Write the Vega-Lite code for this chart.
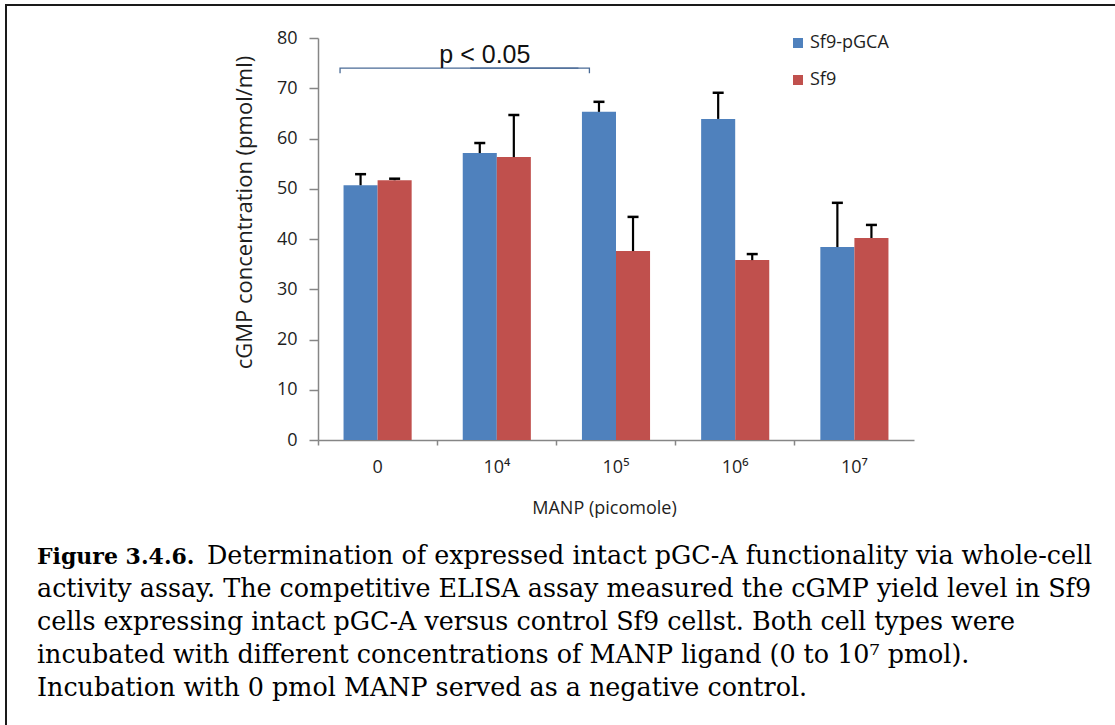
{
  "$schema": "https://vega.github.io/schema/vega-lite/v6.json",
  "width": 1150,
  "height": 760,
  "autosize": {"type": "none"},
  "padding": {"left": 6, "top": 5, "right": 0, "bottom": 0},
  "background": "white",
  "config": {"view": {"stroke": "#1a1a1a", "strokeWidth": 2}},
  "datasets": {
    "bars": [
      {"conc": "0", "cell": "Sf9-pGCA", "mean": 50.7, "upper": 52.9},
      {"conc": "0", "cell": "Sf9", "mean": 51.7, "upper": 52.0},
      {"conc": "10⁴", "cell": "Sf9-pGCA", "mean": 57.1, "upper": 59.1},
      {"conc": "10⁴", "cell": "Sf9", "mean": 56.3, "upper": 64.7},
      {"conc": "10⁵", "cell": "Sf9-pGCA", "mean": 65.3, "upper": 67.3},
      {"conc": "10⁵", "cell": "Sf9", "mean": 37.6, "upper": 44.4},
      {"conc": "10⁶", "cell": "Sf9-pGCA", "mean": 63.9, "upper": 69.1},
      {"conc": "10⁶", "cell": "Sf9", "mean": 35.8, "upper": 37.0},
      {"conc": "10⁷", "cell": "Sf9-pGCA", "mean": 38.4, "upper": 47.2},
      {"conc": "10⁷", "cell": "Sf9", "mean": 40.2, "upper": 42.8}
    ],
    "bracketL": [
      {"conc": "0", "v": 73, "o": 1},
      {"conc": "0", "v": 74, "o": 2},
      {"conc": "10⁵", "v": 74, "o": 3}
    ],
    "bracketR": [
      {"conc": "10⁴", "v": 74, "o": 1},
      {"conc": "10⁵", "v": 74, "o": 2},
      {"conc": "10⁵", "v": 73, "o": 3}
    ],
    "ptext": [{"conc": "10⁴", "v": 75, "label": "p < 0.05"}],
    "capBold": [{"line": 1, "part": "a", "text": "Figure 3.4.6."}],
    "capReg": [
      {"line": 1, "part": "b", "text": "Determination of expressed intact pGC-A functionality via whole-cell"},
      {"line": 2, "part": "a", "text": "activity assay. The competitive ELISA assay measured the cGMP yield level in Sf9"},
      {"line": 3, "part": "a", "text": "cells expressing intact pGC-A versus control Sf9 cellst. Both cell types were"},
      {"line": 4, "part": "a", "text": "incubated with different concentrations of MANP ligand (0 to 10⁷ pmol)."},
      {"line": 5, "part": "a", "text": "Incubation with 0 pmol MANP served as a negative control."}
    ]
  },
  "layer": [
    {
      "layer": [
        {
          "data": {"name": "bars"},
          "mark": {"type": "bar"},
          "encoding": {
            "x": {
              "field": "conc", "type": "nominal",
              "sort": ["0", "10⁴", "10⁵", "10⁶", "10⁷"],
              "scale": {"domain": ["0", "10⁴", "10⁵", "10⁶", "10⁷"], "range": [312, 908], "paddingInner": 0, "paddingOuter": 0},
              "axis": {
                "title": "MANP (picomole)", "offset": -325, "labelAngle": 0, "bandPosition": 0,
                "tickSize": 5, "tickColor": "#868686", "tickWidth": 1.5,
                "domainColor": "#868686", "domainWidth": 1.5,
                "labelFont": "Open Sans, Noto Sans", "labelFontSize": 18, "labelColor": "#1e1e1e", "labelPadding": 13,
                "titleFont": "Open Sans", "titleFontSize": 18, "titleFontWeight": "normal", "titleColor": "#1e1e1e",
                "titleX": 598, "titleY": 68, "titleBaseline": "middle"
              }
            },
            "xOffset": {"field": "cell", "type": "nominal", "sort": ["Sf9-pGCA", "Sf9"], "scale": {"domain": ["Sf9-pGCA", "Sf9"], "paddingOuter": 0.75, "paddingInner": 0}},
            "y": {
              "field": "mean", "type": "quantitative",
              "scale": {"domain": [0, 80], "range": [435, 33], "nice": false},
              "axis": {
                "title": "cGMP concentration  (pmol/ml)", "offset": -312, "values": [0, 10, 20, 30, 40, 50, 60, 70, 80], "grid": false,
                "domainColor": "#868686", "domainWidth": 1.5, "tickColor": "#868686", "tickWidth": 1.5, "tickSize": 9,
                "labelFont": "Open Sans", "labelFontSize": 18, "labelColor": "#1e1e1e", "labelPadding": 12,
                "titleFont": "Open Sans", "titleFontSize": 22, "titleFontWeight": "normal", "titleColor": "#1e1e1e",
                "titleX": -74, "titleY": 207, "titleBaseline": "middle", "titleAlign": "center"
              }
            },
            "color": {
              "field": "cell", "type": "nominal",
              "scale": {"domain": ["Sf9-pGCA", "Sf9"], "range": ["#4F81BD", "#C0504D"]},
              "legend": {
                "orient": "none", "legendX": 783, "legendY": 29, "title": null,
                "symbolType": "square", "symbolSize": 100, "symbolStrokeWidth": 0,
                "labelFont": "Open Sans", "labelFontSize": 18, "labelColor": "#1e1e1e",
                "rowPadding": 19, "labelOffset": 3, "padding": 0
              }
            }
          }
        },
        {
          "data": {"name": "bars"},
          "mark": {"type": "rule", "color": "#000000", "strokeWidth": 2.2},
          "encoding": {
            "x": {"field": "conc", "type": "nominal"},
            "xOffset": {"field": "cell", "type": "nominal"},
            "y": {"field": "mean", "type": "quantitative"},
            "y2": {"field": "upper"}
          }
        },
        {
          "data": {"name": "bars"},
          "mark": {"type": "tick", "orient": "horizontal", "size": 11, "thickness": 2.5, "color": "#000000", "opacity": 1},
          "encoding": {
            "x": {"field": "conc", "type": "nominal"},
            "xOffset": {"field": "cell", "type": "nominal"},
            "y": {"field": "upper", "type": "quantitative"}
          }
        },
        {
          "data": {"name": "bracketL"},
          "mark": {"type": "line", "color": "#4a6b96", "strokeWidth": 1.3},
          "encoding": {
            "x": {"field": "conc", "type": "nominal", "bandPosition": 0.185},
            "y": {"field": "v", "type": "quantitative"},
            "order": {"field": "o"}
          }
        },
        {
          "data": {"name": "bracketR"},
          "mark": {"type": "line", "color": "#4a6b96", "strokeWidth": 1.3},
          "encoding": {
            "x": {"field": "conc", "type": "nominal", "bandPosition": 0.277},
            "y": {"field": "v", "type": "quantitative"},
            "order": {"field": "o"}
          }
        },
        {
          "data": {"name": "ptext"},
          "mark": {"type": "text", "font": "Liberation Sans", "fontSize": 25, "color": "#111111", "align": "center", "baseline": "alphabetic"},
          "encoding": {
            "x": {"field": "conc", "type": "nominal", "bandPosition": 0.4},
            "y": {"field": "v", "type": "quantitative"},
            "text": {"field": "label"}
          }
        }
      ]
    },
    {
      "layer": [
        {
          "data": {"name": "capBold"},
          "mark": {"type": "text", "font": "DejaVu Serif", "fontSize": 22, "fontWeight": "bold", "align": "left", "baseline": "alphabetic", "color": "#000000"},
          "encoding": {
            "x": {"field": "part", "type": "nominal", "scale": {"type": "point", "domain": ["a", "b"], "range": [31, 201], "padding": 0}, "axis": null},
            "y": {"field": "line", "type": "ordinal", "scale": {"type": "point", "domain": [1, 2, 3, 4, 5], "range": [559, 691], "padding": 0}, "axis": null},
            "text": {"field": "text"}
          }
        },
        {
          "data": {"name": "capReg"},
          "mark": {"type": "text", "font": "DejaVu Serif", "fontSize": 25.4, "align": "left", "baseline": "alphabetic", "color": "#000000"},
          "encoding": {
            "x": {"field": "part", "type": "nominal"},
            "y": {"field": "line", "type": "ordinal"},
            "text": {"field": "text"}
          }
        }
      ]
    }
  ],
  "resolve": {"scale": {"x": "independent", "y": "independent"}}
}
